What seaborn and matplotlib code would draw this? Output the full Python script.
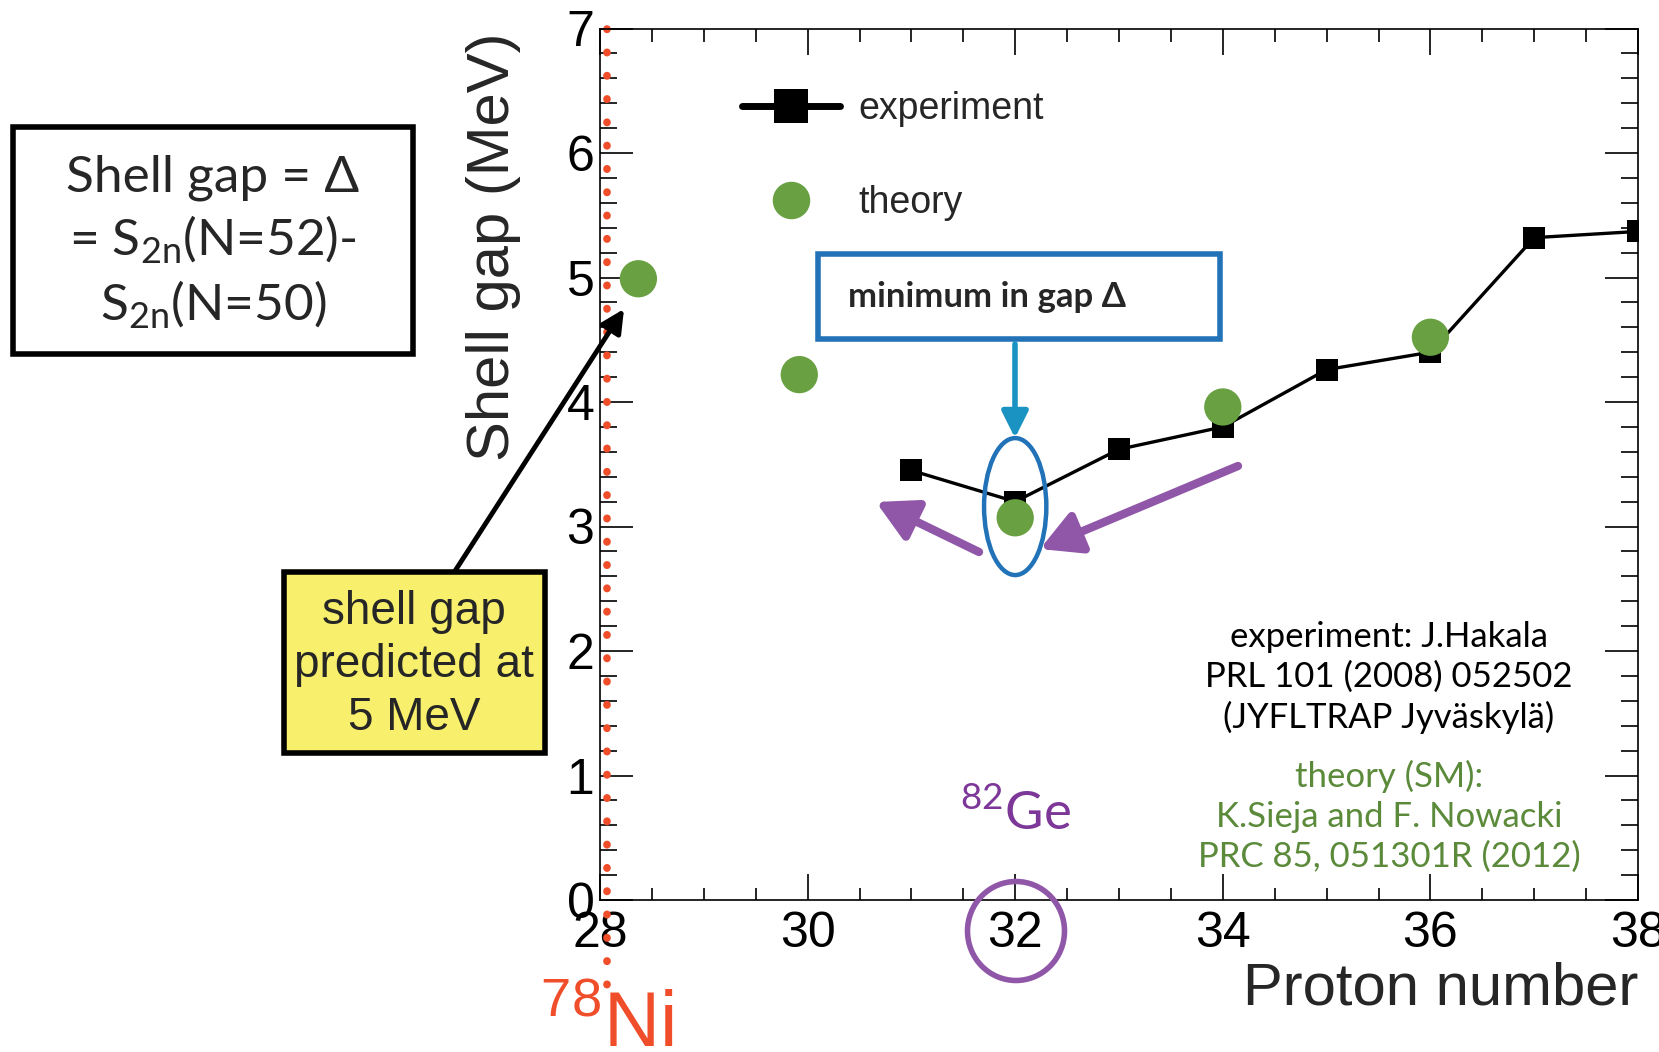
import matplotlib
matplotlib.use("Agg")
import matplotlib.pyplot as plt
import seaborn as sns
from matplotlib.patches import Rectangle, Ellipse, FancyArrowPatch
from matplotlib.lines import Line2D
from matplotlib.ticker import MultipleLocator

# ---- data ----
exp_z = [31, 32, 33, 34, 35, 36, 37, 38]
exp_gap = [3.45, 3.20, 3.62, 3.80, 4.26, 4.40, 5.32, 5.37]
theory_z = [28.37, 29.92, 32, 34, 36]
theory_gap = [4.99, 4.22, 3.07, 3.96, 4.52]
x_ticks = [28, 30, 32, 34, 36, 38]
y_ticks = [0, 1, 2, 3, 4, 5, 6, 7]

GREEN = "#68a042"
DKGREEN = "#5b8a3a"
PURPLE = "#9057a8"
BLUE = "#2272b8"
CYAN = "#1a93c2"
RED = "#f04e2a"

sns.set_theme(style="ticks")
plt.rcParams["font.family"] = ["Liberation Sans", "DejaVu Sans"]

W, H = 1659, 1052
fig = plt.figure(figsize=(W / 100, H / 100), dpi=100)
ax = fig.add_axes([600 / W, 1 - 900 / H, 1038 / W, 871.5 / H])


def fp(x, y):
    return (x / W, 1 - y / H)


sns.lineplot(x=exp_z, y=exp_gap, ax=ax, color="black", lw=2.4, marker="s",
             markersize=16, markeredgewidth=0, zorder=3)
sns.scatterplot(x=theory_z, y=theory_gap, ax=ax, color=GREEN, s=720,
                edgecolor="none", zorder=4)

ax.set_xlim(28, 38)
ax.set_ylim(0, 7)
ax.set_xticks(x_ticks)
ax.set_yticks(y_ticks)
ax.xaxis.set_minor_locator(MultipleLocator(0.5))
ax.yaxis.set_minor_locator(MultipleLocator(0.2))
ax.tick_params(which="both", direction="in", top=True, right=True,
               width=1.2, colors="black", labelsize=36)
ax.tick_params(axis="x", which="major", length=19, pad=8)
ax.tick_params(axis="x", which="minor", length=9)
ax.tick_params(axis="y", which="major", length=24, pad=4)
ax.tick_params(axis="y", which="minor", length=12)
for s in ax.spines.values():
    s.set_linewidth(1.2)
    s.set_color("black")

ax.set_xlabel("Proton number", fontsize=43, loc="right")
ax.xaxis.set_label_coords(1.0, -0.07)
ax.set_ylabel("Shell gap (MeV)", fontsize=43, loc="top")
ax.yaxis.set_label_coords(-0.076, 0.995)

# legend
h1 = Line2D([], [], color="black", lw=5, marker="s", markersize=25,
            markeredgewidth=0)
h2 = Line2D([], [], color=GREEN, lw=0, marker="o", markersize=27,
            markeredgewidth=0)
ax.legend([h1, h2], ["experiment", "theory"], loc="upper left",
          bbox_to_anchor=(0.137, 0.928), frameon=False, fontsize=27,
          handlelength=2.6, handletextpad=0.5, labelspacing=1.55,
          borderpad=0, borderaxespad=0)

# red dotted line at Z=28
ax.plot([28.07, 28.07], [7.0, -0.85], color=RED, lw=5.5,
        linestyle=(0, (0.05, 3.0)), dash_capstyle="round", clip_on=False,
        zorder=2)
fig.text(*fp(607, 1047), r"$^{\mathregular{78}}$Ni", color=RED, fontsize=56,
         ha="center", va="baseline")

# 82Ge label
ax.text(exp_z[1], 0.56, r"$^{\mathregular{82}}$Ge", color="#7d3798",
        fontsize=38, ha="center", va="baseline", family="Lato")

# blue ellipse around the minimum
ax.add_patch(Ellipse((exp_z[1], exp_gap[1] - 0.04), 0.6, 1.1, fill=False,
                     edgecolor=BLUE, lw=3.2, zorder=5))

# blue box
fig.patches.append(Rectangle(fp(818, 339), 402 / W, 85 / H, fill=False,
                             edgecolor=BLUE, lw=4, transform=fig.transFigure))
fig.text(*fp(848, 297), "minimum in gap \u0394", fontsize=25,
         fontweight="bold", family="Lato", ha="left", va="center")

# blue arrow
fig.patches.append(FancyArrowPatch(fp(1015, 344), fp(1015, 438),
                                   transform=fig.transFigure,
                                   arrowstyle="-|>,head_length=16,head_width=8",
                                   color=CYAN, lw=4, shrinkA=0, shrinkB=0))

# purple arrows
for (x0, y0), (x1, y1) in [((979, 552), (876, 502)), ((1238, 466), (1040, 549))]:
    fig.patches.append(FancyArrowPatch(fp(x0, y0), fp(x1, y1),
                                       transform=fig.transFigure,
                                       arrowstyle="-|>,head_length=24,head_width=13",
                                       color=PURPLE, lw=6, shrinkA=0, shrinkB=0))

# purple circle around tick label 32
fig.patches.append(Ellipse(fp(1016, 931), 97 / W, 99 / H, fill=False,
                           edgecolor=PURPLE, lw=4, transform=fig.transFigure))

# formula box
fig.patches.append(Rectangle(fp(13, 354), 400 / W, 227 / H, fill=False,
                             edgecolor="black", lw=4, transform=fig.transFigure))
fig.text(*fp(213, 243),
         "Shell gap = \u0394\n= S$_{\\mathregular{2n}}$(N=52)-\nS$_{\\mathregular{2n}}$(N=50)",
         fontsize=37, family="Lato", ha="center", va="center",
         linespacing=1.3)

# yellow box
fig.patches.append(Rectangle(fp(284, 753), 261 / W, 181 / H,
                             facecolor="#f8f06c", edgecolor="black", lw=4,
                             transform=fig.transFigure))
fig.text(*fp(414, 665), "shell gap\npredicted at\n5 MeV", fontsize=33,
         ha="center", va="center", linespacing=1.25)

# black arrow
fig.patches.append(FancyArrowPatch(fp(455, 571), fp(624, 309),
                                   transform=fig.transFigure,
                                   arrowstyle="-|>,head_length=14,head_width=7",
                                   color="black", lw=3.5, shrinkA=0, shrinkB=0))

# references
ax.text(35.6, 1.785, "experiment: J.Hakala\nPRL 101 (2008) 052502\n(JYFLTRAP Jyväskylä)",
        fontsize=25, family="Lato", ha="center", va="center", linespacing=1.3,
        color="black")
ax.text(35.6, 0.67, "theory (SM):\nK.Sieja and F. Nowacki\nPRC 85, 051301R (2012)",
        fontsize=25, family="Lato", ha="center", va="center", linespacing=1.3,
        color=DKGREEN)

fig.savefig("out.png", dpi=100)
